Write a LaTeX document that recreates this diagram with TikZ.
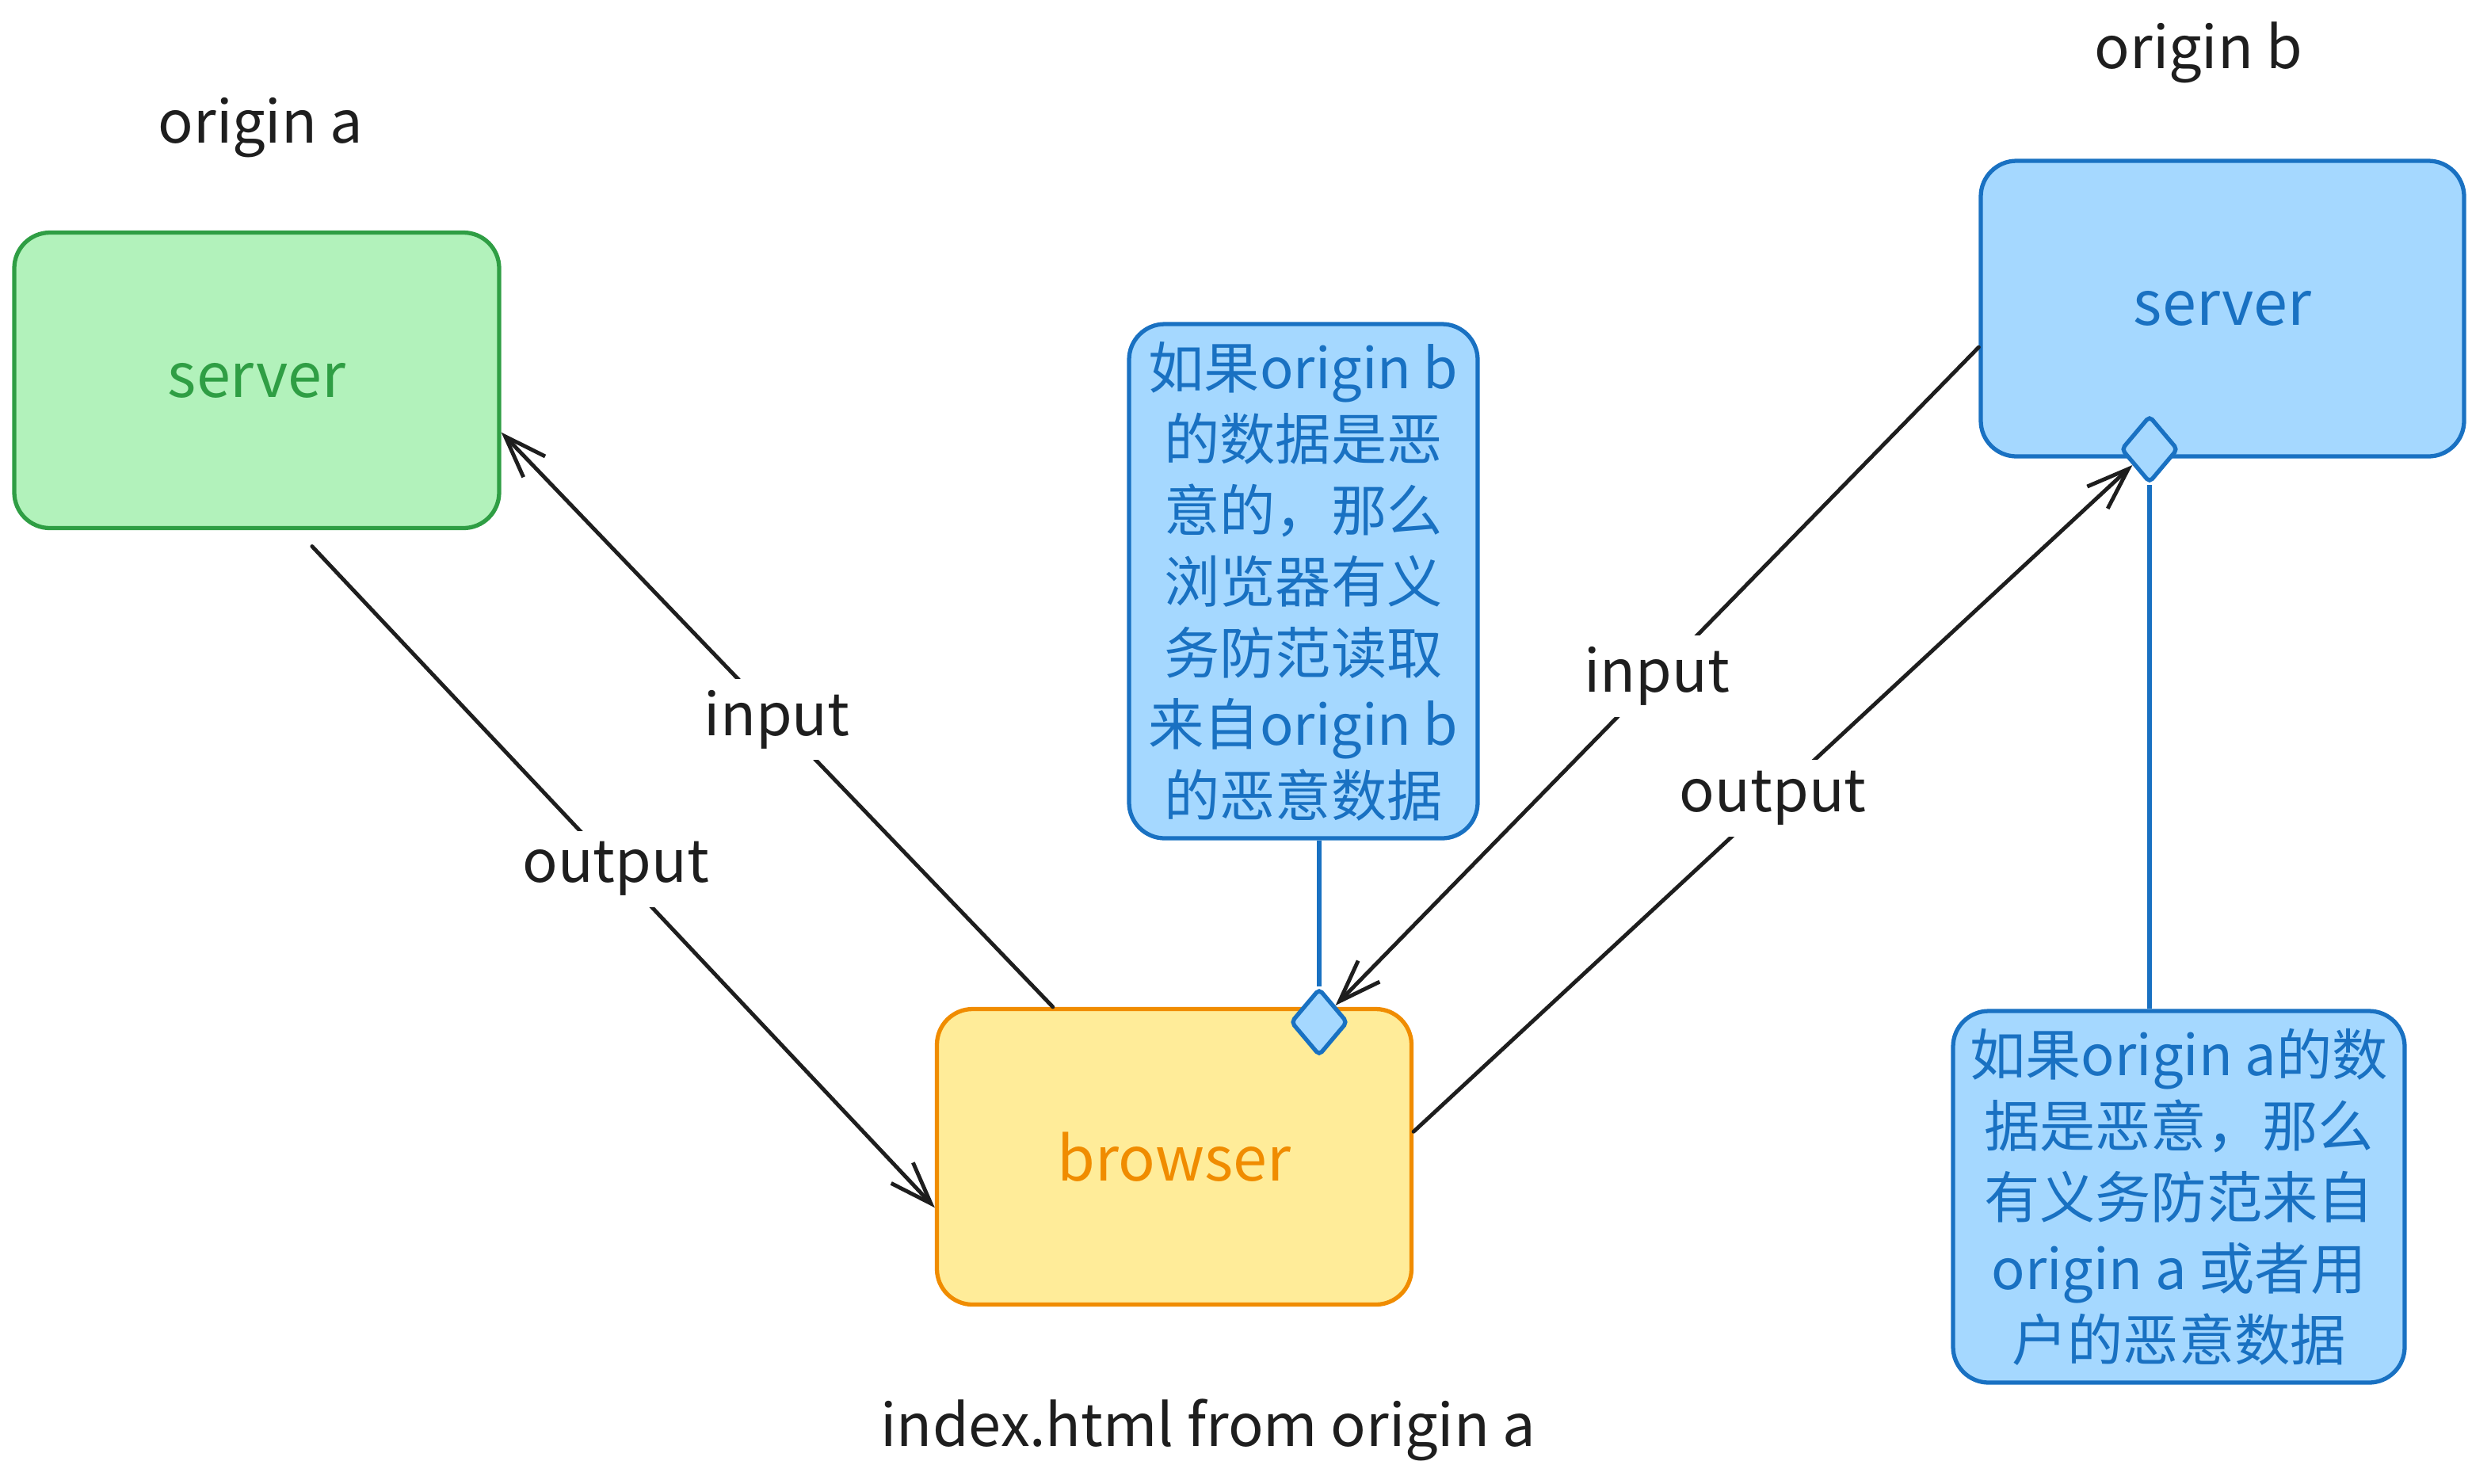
\documentclass[tikz,border=0pt]{standalone}
\usepackage{fontspec}
\setmainfont{Noto Sans CJK SC}
\usetikzlibrary{shapes.geometric,arrows.meta}
\definecolor{gfill}{HTML}{B2F2BB}
\definecolor{gline}{HTML}{2F9E44}
\definecolor{yfill}{HTML}{FFEC99}
\definecolor{yline}{HTML}{F08C00}
\definecolor{bfill}{HTML}{A5D8FF}
\definecolor{bline}{HTML}{1971C2}
\definecolor{ink}{HTML}{1E1E1E}
\begin{document}
\begin{tikzpicture}[
  box/.style={draw, rounded corners=0.45cm, line width=1.5pt, inner sep=0pt, align=center,
    font=\fontsize{22}{26}\selectfont},
  notebox/.style={draw=bline, fill=bfill, text=bline, rounded corners=0.45cm, line width=1.5pt,
    inner sep=0pt, align=center, font=\fontsize{20}{25.6}\selectfont},
  lbl/.style={text=ink, font=\fontsize{21}{25}\selectfont, inner sep=2pt},
  arrlbl/.style={fill=white, text=ink, font=\fontsize{21}{25}\selectfont, inner sep=4pt},
  conn/.style={draw=ink, line width=1.4pt, line cap=round, line join=round,
    -{Straight Barb[length=0.53cm,width=0.38cm,line width=1.4pt]}},
  tie/.style={draw=bline, line width=1.6pt},
  knob/.style={diamond, draw=bline, fill=bfill, line width=1.5pt, inner sep=0pt,
    minimum width=0.72cm, minimum height=0.85cm, rounded corners=1.5pt}
]
\useasboundingbox (0,0) rectangle (31.2,-18.72);

% titles
\node[lbl] (oa) at (3.29,-1.61) {origin a};
\node[lbl] (ob) at (27.75,-0.66) {origin b};
\node[lbl] (ix) at (15.25,-18.05) {index.html from origin a};

% boxes
\node[box, draw=gline, fill=gfill, text=gline, minimum width=6.12cm, minimum height=3.73cm]
  (serverA) at (3.24,-4.80) {server};
\node[box, draw=yline, fill=yfill, text=yline, minimum width=5.99cm, minimum height=3.73cm]
  (browser) at (14.82,-14.60) {browser};
\node[box, draw=bline, fill=bfill, text=bline, minimum width=6.10cm, minimum height=3.73cm]
  (serverB) at (28.05,-3.895) {server};

% notes
\node[notebox, minimum width=4.40cm, minimum height=6.49cm] (note1) at (16.45,-7.335)
  {如果origin b\\的数据是恶\\意的，那么\\浏览器有义\\务防范读取\\来自origin b\\的恶意数据};
\node[notebox, minimum width=5.70cm, minimum height=4.69cm] (note2) at (27.50,-15.105)
  {如果origin a的数\\据是恶意，那么\\有义务防范来自\\origin a 或者用\\户的恶意数据};

% diamond ends
\node[knob] (d1) at (16.65,-12.90) {};
\node[knob] (d2) at (27.13,-5.67) {};

% ties from notes
\draw[tie] (d1 |- note1.south) -- (d1.north);
\draw[tie] (d2 |- note2.north) -- (d2.south);

% arrows
\draw[conn] (browser.129.4) -- node[arrlbl] {input} (serverA.-12.7);
\draw[conn, shorten <=0.28cm] (serverA.-75.9) -- node[arrlbl] {output} (browser.-168.5);
\draw[conn] (serverB.189.8) -- node[arrlbl] {input} (d1);
\draw[conn] (browser.6.5) -- node[arrlbl] {output} (d2);
\end{tikzpicture}
\end{document}
